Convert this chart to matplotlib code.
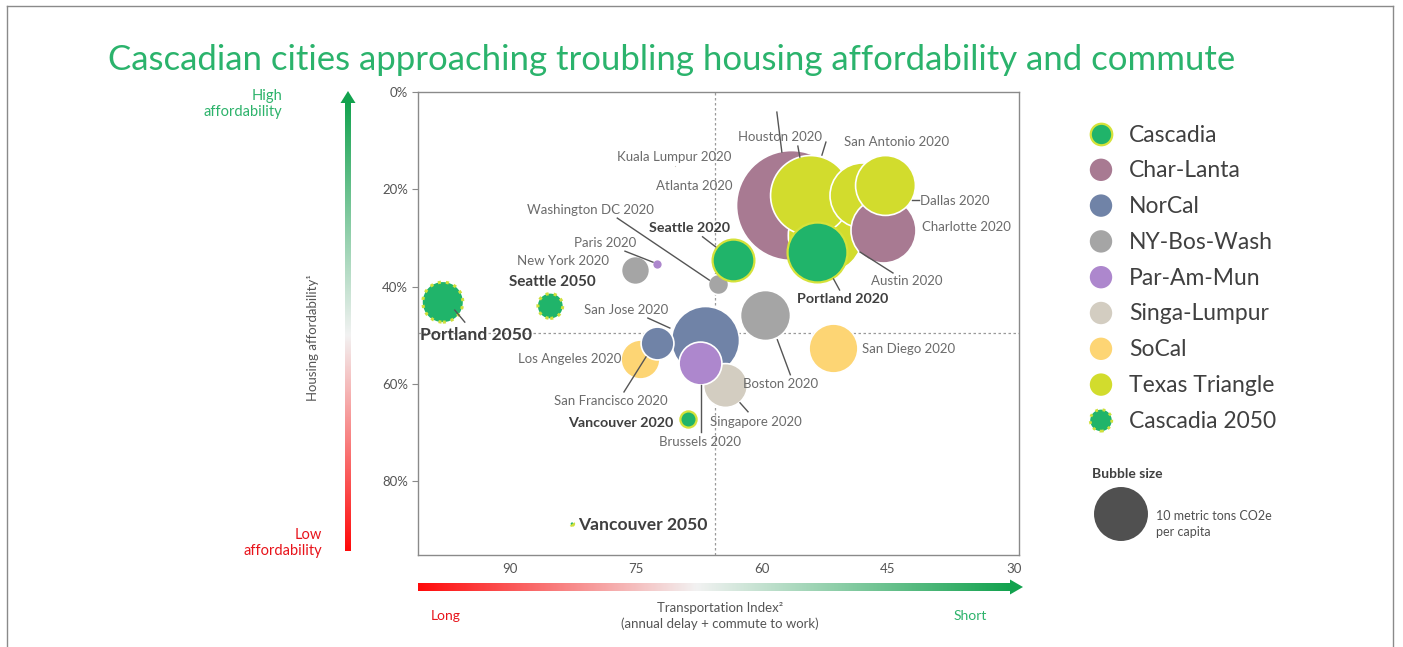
import matplotlib
matplotlib.use('Agg')
import matplotlib.pyplot as plt
import numpy as np
from matplotlib.colors import LinearSegmentedColormap
from matplotlib.patches import Polygon
import matplotlib.transforms as mtransforms

plt.rcParams['font.family'] = ['Lato', 'DejaVu Sans']

W, H, DPI = 1403, 647, 100

# ---------------- data (draw order: back to front) ----------------
cities = ["Vancouver 2050", "Kuala Lumpur 2020", "Atlanta 2020", "Austin 2020", "Houston 2020",
          "San Antonio 2020", "Charlotte 2020", "Dallas 2020", "San Jose 2020", "Boston 2020",
          "San Diego 2020", "Los Angeles 2020", "San Francisco 2020", "Singapore 2020",
          "Brussels 2020", "New York 2020", "Washington DC 2020", "Paris 2020",
          "Seattle 2020", "Portland 2020", "Vancouver 2020", "Portland 2050", "Seattle 2050"]
regions = ["Cascadia 2050", "Singa-Lumpur", "Char-Lanta", "Texas Triangle", "Texas Triangle",
           "Texas Triangle", "Char-Lanta", "Texas Triangle", "NorCal", "NY-Bos-Wash",
           "SoCal", "SoCal", "NorCal", "Singa-Lumpur",
           "Par-Am-Mun", "NY-Bos-Wash", "NY-Bos-Wash", "Par-Am-Mun",
           "Cascadia", "Cascadia", "Cascadia", "Cascadia 2050", "Cascadia 2050"]
transport_index = [82.6, 70.4, 56.5, 52.5, 54.3,
                   48.1, 45.6, 45.4, 66.8, 59.6,
                   51.5, 74.5, 72.5, 64.4,
                   67.4, 75.1, 65.2, 72.5,
                   63.5, 53.5, 68.8, 98.0, 85.2]
affordability = [88.8, 15.2, 23.2, 29.4, 21.2,
                 21.2, 28.4, 19.1, 51.0, 45.8,
                 52.6, 54.9, 51.6, 60.2,
                 55.7, 36.6, 39.5, 35.4,
                 34.5, 32.9, 67.2, 43.2, 44.0]
co2_per_capita = [0.03, 0.03, 41.5, 19.0, 21.9,
                  14.5, 14.5, 12.3, 15.9, 8.6,
                  8.2, 5.2, 3.7, 6.6,
                  6.3, 2.7, 1.4, 0.34,
                  6.0, 12.3, 0.9, 5.5, 2.1]

legend_regions = ["Cascadia", "Char-Lanta", "NorCal", "NY-Bos-Wash", "Par-Am-Mun",
                  "Singa-Lumpur", "SoCal", "Texas Triangle", "Cascadia 2050"]
region_colors = {"Cascadia": "#20b46a", "Char-Lanta": "#a87a92", "NorCal": "#7083a7",
                 "NY-Bos-Wash": "#a5a5a5", "Par-Am-Mun": "#ad87cd", "Singa-Lumpur": "#d3cdc1",
                 "SoCal": "#fdd574", "Texas Triangle": "#d2dc2d", "Cascadia 2050": "#20b46a"}

x_ticks = [90, 75, 60, 45, 30]
y_ticks = [0, 20, 40, 60, 80]
y_ticklabels = ["0%", "20%", "40%", "60%", "80%"]
x_ref, y_ref = 65.6, 49.5
bubble_ref_value = 10

# label styling: text offset (px, y down), ha, style, leader lines (px offsets rel. to bubble)
labels = {
    "Houston 2020": ((-30, -58), "center", "n", [(-33, -83, -28, -43), (-12, -49, -10, -38)]),
    "San Antonio 2020": ((-18, -53), "left", "n", [(-36, -53, -40, -40)]),
    "Kuala Lumpur 2020": ((0, -9), "center", "n", []),
    "Atlanta 2020": ((-59, -19), "right", "n", []),
    "Dallas 2020": ((35, 16), "left", "n", [(27, 15, 34, 15)]),
    "Charlotte 2020": ((39, -3), "left", "n", []),
    "Washington DC 2020": ((-128, -74), "center", "n", [(-101, -66, -9, -4)]),
    "Seattle 2020": ((-43, -32), "center", "b", [(-30, -23, -17, -13)]),
    "Paris 2020": ((-52, -21), "center", "n", [(-32, -13, -4, -2)]),
    "New York 2020": ((-72, -9), "center", "n", []),
    "Austin 2020": ((82, 46), "center", "n", [(35, 17, 68, 38)]),
    "Portland 2020": ((26, 47), "center", "b", [(17, 27, 23, 38)]),
    "Seattle 2050": ((2, -24), "center", "B", []),
    "San Jose 2020": ((-79, -30), "center", "n", [(-57, -22, -35, -12)]),
    "Portland 2050": ((-23, 33), "left", "C", [(12, 8, 22, 20)]),
    "Los Angeles 2020": ((-70, 0), "center", "n", []),
    "San Diego 2020": ((29, 1), "left", "n", []),
    "Boston 2020": ((15, 69), "center", "n", [(12, 25, 25, 60)]),
    "San Francisco 2020": ((-46, 58), "center", "n", [(-33, 49, -11, 14)]),
    "Singapore 2020": ((31, 37), "center", "n", [(15, 18, 23, 27)]),
    "Vancouver 2020": ((-15, 4), "right", "b", []),
    "Brussels 2020": ((0, 79), "center", "n", [(1, 22, 1, 69)]),
    "Vancouver 2050": ((6, 1), "left", "C", []),
}

S_PER_UNIT = 151.0  # scatter area (pt^2) per tonne

fig = plt.figure(figsize=(W / DPI, H / DPI), dpi=DPI)
fig.patch.set_facecolor('white')

def fx(px):
    return px / W

def fy(py):
    return 1 - py / H

ax = fig.add_axes([fx(418), fy(555), (1019 - 418) / W, (555 - 92) / H])
ax.set_xlim(100.95, 29.4)
ax.set_ylim(95.2, 0)

for sp in ax.spines.values():
    sp.set_color('#8a8a8a')
    sp.set_linewidth(1.0)
ax.set_xticks(x_ticks)
ax.set_xticklabels([str(t) for t in x_ticks])
ax.set_yticks(y_ticks)
ax.set_yticklabels(y_ticklabels)
ax.tick_params(axis='x', length=0, pad=6, labelsize=9.5, labelcolor='#555555')
ax.tick_params(axis='y', length=4, color='#8a8a8a', pad=3, labelsize=9.5, labelcolor='#555555')

ax.axvline(x_ref, color='#9a9a9a', lw=0.9, ls=(0, (2, 2)), zorder=1)
ax.axhline(y_ref, color='#9a9a9a', lw=0.9, ls=(0, (2, 2)), zorder=1)

for i, (c, r, xv, yv, v) in enumerate(zip(cities, regions, transport_index, affordability, co2_per_capita)):
    col = region_colors[r]
    if r == "Cascadia":
        ax.scatter([xv], [yv], s=S_PER_UNIT * v, c=col, edgecolors='#d5e23a', linewidths=1.6, zorder=3 + i)
    elif r == "Cascadia 2050":
        ax.scatter([xv], [yv], s=S_PER_UNIT * v, c=col, edgecolors='#cfe03c', linewidths=2.2,
                   linestyles=':', zorder=3 + i)
    else:
        ax.scatter([xv], [yv], s=S_PER_UNIT * v, c=col, edgecolors='white', linewidths=1.2, zorder=3 + i)

# labels and leader lines
for c, xv, yv in zip(cities, transport_index, affordability):
    (tdx, tdy), ha, style, lines = labels[c]
    tr = mtransforms.offset_copy(ax.transData, fig=fig, x=tdx, y=-tdy, units='dots')
    if style == 'n':
        kw = dict(fontsize=9.5, color='#6b6b6b')
    elif style == 'b':
        kw = dict(fontsize=10.3, color='#3f3f3f', fontweight='bold')
    elif style == 'B':
        kw = dict(fontsize=11, color='#3f3f3f', fontweight='bold')
    else:
        kw = dict(fontsize=12.6, color='#3f3f3f', fontweight='bold')
    ax.text(xv, yv, c, transform=tr, ha=ha, va='center', zorder=50, **kw)
    for (x1, y1, x2, y2) in lines:
        t1 = mtransforms.offset_copy(ax.transData, fig=fig, x=x1, y=-y1, units='dots')
        t2 = mtransforms.offset_copy(ax.transData, fig=fig, x=x2, y=-y2, units='dots')
        p1 = t1.transform((xv, yv))
        p2 = t2.transform((xv, yv))
        ax.plot([p1[0], p2[0]], [p1[1], p2[1]], transform=None, color='#555555', lw=1.0, zorder=49)

# ---------------- overlay in pixel coordinates ----------------
ov = fig.add_axes([0, 0, 1, 1], zorder=10)
ov.set_facecolor('none')
ov.axis('off')

# border
ov.plot([7, 7], [H + 5, 6], color='#8a8a8a', lw=1)
ov.plot([7, 1393], [6, 6], color='#8a8a8a', lw=1)
ov.plot([1393, 1393], [6, H + 5], color='#8a8a8a', lw=1)

# title
ov.text(672, 60, "Cascadian cities approaching troubling housing affordability and commute",
        ha='center', va='center', fontsize=25, color='#2bb36c')

# vertical gradient arrow
cmap_y = LinearSegmentedColormap.from_list('gy', [(0, '#12a24e'), (0.52, '#f2f2f2'), (1, '#ff0a0a')])
grad = np.linspace(0, 1, 256).reshape(-1, 1)
ov.imshow(grad, cmap=cmap_y, aspect='auto', extent=(345, 351, 551, 101), origin='upper',
          interpolation='bilinear')
ov.add_patch(Polygon([(348, 91), (340.5, 103), (355.5, 103)], closed=True, color='#12a24e', lw=0))

# horizontal gradient arrow
cmap_x = LinearSegmentedColormap.from_list('gx', [(0, '#ff0a0a'), (0.47, '#f2f2f2'), (1, '#12a24e')])
gradx = np.linspace(0, 1, 256).reshape(1, -1)
ov.imshow(gradx, cmap=cmap_x, aspect='auto', extent=(418, 1011, 591, 583), origin='upper',
          interpolation='bilinear')
ov.add_patch(Polygon([(1023, 587), (1010, 579.5), (1010, 594.5)], closed=True, color='#12a24e', lw=0))

ov.text(282, 104, "High\naffordability", ha='right', va='center', fontsize=10.5, color='#2db36b',
        linespacing=1.1)
ov.text(322, 543, "Low\naffordability", ha='right', va='center', fontsize=10.5, color='#e8141b',
        linespacing=1.1)
ov.text(313, 338, "Housing affordability\u00b9", ha='center', va='center', rotation=90,
        fontsize=9.5, color='#555555')

ov.text(446, 616, "Long", ha='center', va='center', fontsize=10, color='#e8141b')
ov.text(970, 616, "Short", ha='center', va='center', fontsize=10, color='#2db36b')
ov.text(720, 616, "Transportation Index\u00b2\n(annual delay + commute to work)", ha='center',
        va='center', fontsize=9.5, color='#555555', linespacing=1.25)

# legend
for k, r in enumerate(legend_regions):
    yy = 134 + k * 35.8
    col = region_colors[r]
    if r == "Cascadia":
        ov.scatter([1101], [yy], s=240, c=col, edgecolors='#d5e23a', linewidths=1.6)
    elif r == "Cascadia 2050":
        ov.scatter([1101], [yy], s=240, c=col, edgecolors='#cfe03c', linewidths=2.0, linestyles=':')
    else:
        ov.scatter([1101], [yy], s=260, c=col, edgecolors='none')
    ov.text(1129, yy + 1, r, ha='left', va='center', fontsize=16.5, color='#404040')

ov.text(1092, 474, "Bubble size", ha='left', va='center', fontsize=10, color='#404040',
        fontweight='bold')
ov.scatter([1121], [514], s=S_PER_UNIT * bubble_ref_value, c='#505050', edgecolors='none')
ov.text(1156, 524, "10 metric tons CO2e\nper capita", ha='left', va='center', fontsize=9,
        color='#505050', linespacing=1.4)

ov.set_xlim(0, W)
ov.set_ylim(H, 0)

fig.savefig('out.png', dpi=DPI)
